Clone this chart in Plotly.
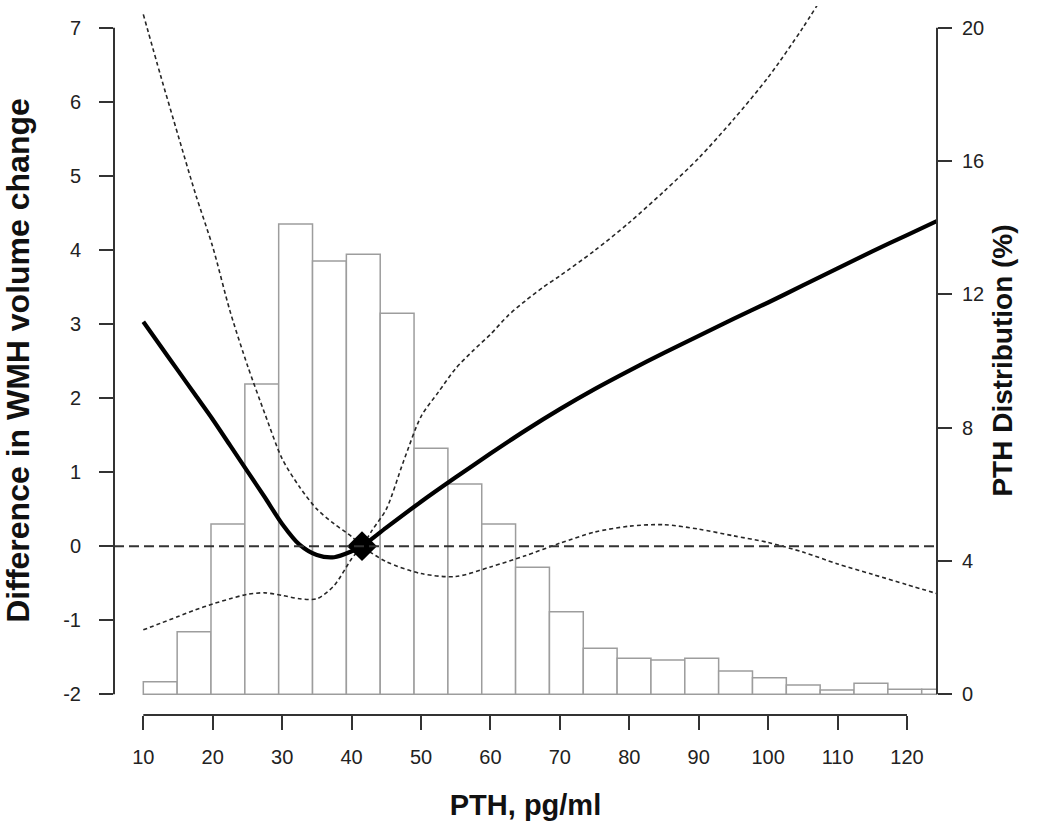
import plotly.graph_objects as go

# ---------------- data ----------------
# Histogram of PTH distribution (%), bins of 5 pg/ml starting at these values
bin_starts = [10, 15, 20, 25, 30, 35, 40, 45, 50, 55, 60, 65, 70, 75, 80, 85,
              90, 95, 100, 105, 110, 115, 120, 125]
bin_pct = [0.38, 1.88, 5.11, 9.31, 14.11, 13.0, 13.2, 11.43, 7.38, 6.31, 5.11,
           3.81, 2.48, 1.38, 1.08, 1.03, 1.08, 0.70, 0.50, 0.28, 0.13, 0.33,
           0.15, 0.15]
bin_width = 5

# Estimated difference in WMH volume change (spline), with 95% CI
pth_est = [10, 12.5, 15, 17.5, 20, 22.5, 25, 27.5, 30, 32.5, 35, 37.5, 40, 41.5,
           45, 50, 55, 60, 65, 70, 75, 80, 85, 90, 95, 100, 105, 110, 115, 120, 125]
diff_est = [3.03, 2.70, 2.37, 2.04, 1.71, 1.36, 1.01, 0.66, 0.30, 0.02, -0.12,
            -0.15, -0.07, 0.0, 0.25, 0.60, 0.93, 1.25, 1.56, 1.85, 2.12, 2.37,
            2.61, 2.84, 3.07, 3.29, 3.52, 3.75, 3.98, 4.20, 4.42]

pth_lo = [10, 12.5, 15, 17.5, 20, 22.5, 25, 27.5, 30, 32.5, 35, 37.5, 40, 41.5,
          43, 45, 47.5, 50, 52.5, 55, 57.5, 60, 62.5, 65, 67.5, 70, 75, 80, 85,
          90, 95, 100, 105, 110]
diff_lo = [-1.13, -1.04, -0.95, -0.86, -0.78, -0.71, -0.65, -0.63, -0.665, -0.71,
           -0.71, -0.53, -0.17, 0.0, 0.22, 0.50, 1.15, 1.75, 2.08, 2.40, 2.64,
           2.86, 3.11, 3.31, 3.49, 3.65, 3.99, 4.37, 4.79, 5.24, 5.76, 6.33,
           7.0, 7.75]

pth_hi = [10, 12.5, 15, 17.5, 20, 22.5, 25, 27.5, 30, 32.5, 35, 37.5, 40, 41.5,
          45, 50, 55, 60, 65, 70, 75, 80, 85, 90, 95, 100, 105, 110, 115, 120, 125]
diff_hi = [7.18, 6.35, 5.55, 4.76, 4.04, 3.17, 2.44, 1.79, 1.18, 0.80, 0.50,
           0.30, 0.13, 0.0, -0.21, -0.37, -0.41, -0.28, -0.13, 0.04, 0.19, 0.27,
           0.29, 0.23, 0.14, 0.05, -0.08, -0.24, -0.38, -0.52, -0.66]

# Reference point (median PTH)
ref_pth = [41.5]
ref_diff = [0.0]

# Tick labels
x_ticks = [10, 20, 30, 40, 50, 60, 70, 80, 90, 100, 110, 120]
left_ticks = [-2, -1, 0, 1, 2, 3, 4, 5, 6, 7]
left_ticktext = ["-2", "-1", "0", "1", "2", "3", "4", "5", "6", "7"]
right_ticks = [0, 4, 8, 12, 16, 20]

# ---------------- figure ----------------
FONT = "Liberation Sans, Arial, Helvetica, sans-serif"
AX = "#333333"

fig = go.Figure()

# Histogram (main axes x / y)
fig.add_trace(go.Bar(
    x=bin_starts, y=bin_pct, width=bin_width, offset=0,
    marker=dict(color="white", line=dict(color="#9d9d9d", width=1.5)),
    xaxis="x", yaxis="y", showlegend=False, hoverinfo="skip"))

dash_ci = "4px,3px"
fig.add_trace(go.Scatter(
    x=pth_hi, y=diff_hi, mode="lines", xaxis="x2", yaxis="y2",
    line=dict(color="#262626", width=1.6, dash=dash_ci, shape="spline", smoothing=0.8),
    showlegend=False))
fig.add_trace(go.Scatter(
    x=pth_lo, y=diff_lo, mode="lines", xaxis="x2", yaxis="y2",
    line=dict(color="#262626", width=1.6, dash=dash_ci, shape="spline", smoothing=0.8),
    showlegend=False))
fig.add_trace(go.Scatter(
    x=pth_est, y=diff_est, mode="lines", xaxis="x2", yaxis="y2",
    line=dict(color="black", width=4.2, shape="spline", smoothing=0.8),
    showlegend=False))
fig.add_trace(go.Scatter(
    x=ref_pth, y=ref_diff, mode="markers", xaxis="x2", yaxis="y2",
    marker=dict(symbol="diamond", size=23, color="black"),
    showlegend=False))

tickfont = dict(family=FONT, size=20, color="#222222")
titlefont_x = dict(family=FONT, size=29, color="#111111", weight="bold")
titlefont_l = dict(family=FONT, size=32, color="#111111", weight="bold")
titlefont_r = dict(family=FONT, size=28, color="#111111", weight="bold")

fig.update_layout(
    width=1050, height=829, autosize=False,
    margin=dict(l=114, r=113.3, t=6, b=114, pad=0),
    paper_bgcolor="white", plot_bgcolor="white",
    xaxis=dict(range=[5.670, 127.26], visible=False, fixedrange=True,
               automargin=False),
    yaxis=dict(range=[-0.621, 20.651], side="right", tickvals=right_ticks,
               ticks="outside", ticklen=14, tickwidth=2, tickcolor=AX,
               showline=False, showgrid=False, zeroline=False, automargin=False,
               tickfont=tickfont, ticklabelstandoff=6,
               title=dict(text="PTH Distribution (%)", font=titlefont_r, standoff=9)),
    xaxis2=dict(range=[5.778, 124.32], overlaying="x", anchor="y2", side="bottom",
                tickvals=x_ticks, ticks="outside", ticklen=14, tickwidth=2,
                tickcolor=AX, showline=False, showgrid=False, zeroline=False,
                automargin=False,
                tickfont=tickfont, ticklabelstandoff=10,
                title=dict(text="PTH, pg/ml", font=titlefont_x, standoff=27)),
    yaxis2=dict(range=[-2.2795, 7.293], overlaying="y", side="left", anchor="x2",
                tickvals=left_ticks, ticktext=left_ticktext, ticks="outside",
                ticklen=14, tickwidth=2, automargin=False,
                tickcolor=AX, showline=False, showgrid=False, zeroline=False,
                tickfont=tickfont, ticklabelstandoff=14,
                title=dict(text="Difference in WMH volume change", font=titlefont_l,
                           standoff=42)),
)

# axis lines spanning the tick range (R style) and the reference line at 0
fig.add_shape(type="line", xref="x2", yref="paper", x0=x_ticks[0], x1=x_ticks[-1],
              y0=0, y1=0, line=dict(color=AX, width=2), layer="above")
fig.add_shape(type="line", xref="paper", yref="y2", x0=0, x1=0,
              y0=left_ticks[0], y1=left_ticks[-1], line=dict(color=AX, width=2))
fig.add_shape(type="line", xref="paper", yref="y", x0=1, x1=1,
              y0=right_ticks[0], y1=right_ticks[-1], line=dict(color=AX, width=2))
fig.add_shape(type="line", xref="paper", yref="y2", x0=0, x1=1, y0=0, y1=0,
              line=dict(color="#333333", width=2, dash="10px,5px"), layer="above")

fig.write_html("out.html",
               config={"displayModeBar": False},
               post_script="document.body.style.margin='0px';"
                           "document.body.style.overflow='hidden';")
